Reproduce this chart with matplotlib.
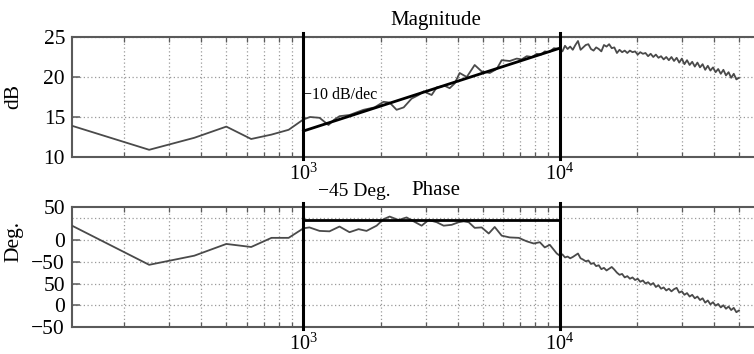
import numpy as np
import matplotlib
matplotlib.use("Agg")
import matplotlib.pyplot as plt
from matplotlib.ticker import LogLocator, NullFormatter

plt.rcParams["font.family"] = ["Liberation Serif", "DejaVu Serif"]
plt.rcParams["mathtext.fontset"] = "stix"

# ---- data ----
# low end, 125 Hz measurement steps
freq_low = [125, 250, 375, 500, 625, 750, 875, 1000]
mag_low = [13.9, 10.9, 12.4, 13.8, 12.25, 12.8, 13.4, 14.7]
phase_low = [33, -57, -36, -9, -16, 5, 5, 27]

# 1 kHz - 10 kHz
freq_mag_mid = [1060, 1155, 1252, 1310, 1382, 1512, 1715, 1893, 2054, 2168,
                2308, 2460, 2642, 2813, 2943, 3162, 3310, 3555, 3718, 3890,
                4067, 4335, 4655, 4955, 5330, 5674, 5933, 6379, 6792, 7100,
                7430, 7800, 8128, 8450, 8735, 9100, 9478]
mag_mid = [15.0, 14.9, 14.0, 14.6, 15.1, 15.25, 15.9, 16.2, 16.9, 16.8,
           15.9, 16.2, 17.3, 17.75, 18.2, 17.75, 18.7, 18.9, 18.6, 19.2,
           20.5, 20.0, 21.5, 20.7, 20.5, 21.0, 22.1, 22.0, 22.3, 22.2,
           22.6, 22.5, 22.9, 22.8, 23.2, 23.1, 23.6]

freq_phase_mid = [1055, 1155, 1263, 1382, 1512, 1640, 1762, 1929, 2054, 2168,
                  2350, 2525, 2690, 2890, 3077, 3308, 3523, 3786, 4032, 4217,
                  4411, 4656, 4955, 5281, 5572, 5934, 6377, 6916, 7430, 7914,
                  8356, 8736, 9141, 9734]
phase_mid = [29, 21, 20, 31, 18, 25, 21, 33, 48, 54,
             46, 52, 43, 33, 46, 41, 33, 35, 41, 43,
             41, 28, 29, 15, 30, 10, 6, 5, -3, -8,
             -5, -17, -11, -31]

# 10 kHz - 50 kHz, dense log grid
freq_high = np.geomspace(1e4, 5e4, 70)
mag_high = [23.5, 23.2, 23.9, 23.5, 23.8, 23.4, 24.0, 24.5, 23.4, 23.7,
            24.0, 24.1, 23.5, 23.3, 23.7, 23.5, 23.2, 24.0, 23.8, 24.1,
            23.6, 23.7, 23.0, 23.4, 23.1, 23.3, 23.0, 23.3, 23.1, 23.2,
            22.8, 23.1, 22.9, 23.0, 22.6, 22.9, 22.5, 22.8, 22.4, 22.6,
            22.2, 22.5, 22.1, 22.5, 22.0, 22.4, 21.8, 22.3, 21.6, 22.1,
            21.5, 21.9, 21.3, 21.8, 21.2, 21.6, 20.9, 21.4, 20.8, 21.2,
            20.6, 21.0, 20.4, 20.9, 20.2, 20.6, 19.9, 20.4, 19.7, 19.9]
phase_high = [-36, -33, -40, -38, -42, -39, -35, -31, -42, -45,
              -49, -47, -55, -53, -60, -58, -67, -64, -70, -66,
              -62, -68, -75, -80, -78, -86, -83, -89, -86, -92,
              -89, -96, -93, -100, -97, -103, -99, -108, -104, -112,
              -109, -116, -112, -118, -113, -110, -121, -118, -126, -122,
              -130, -126, -134, -130, -138, -134, -144, -139, -148, -143,
              -151, -147, -155, -150, -158, -153, -161, -156, -166, -162]

# asymptote / reference lines
slope_freq = [1e3, 1e4]
slope_db = [13.25, 23.6]
phase_ref_freq = [1e3, 1e4]
phase_ref = [45, 45]
corner_freqs = [1e3, 1e4]

freq_mag = np.concatenate([freq_low, freq_mag_mid, freq_high])
mag = np.concatenate([mag_low, mag_mid, mag_high])
freq_ph = np.concatenate([freq_low, freq_phase_mid, freq_high])
phase = np.concatenate([phase_low, phase_mid, phase_high])

phase_ticks = [-200, -150, -100, -50, 0, 76]
phase_ticklabels = ["\u221250", "0", "50", "\u221250", "0", "50"]
phase_grid = [-150, -100, -50, 0, 50]

# ---- figure ----
fig = plt.figure(figsize=(7.54, 3.54), dpi=100)
ax1 = fig.add_axes([0.0955, 0.5565, 0.9854, 0.339])
ax2 = fig.add_axes([0.0955, 0.0763, 0.9854, 0.339])

data_col = "#4a4a4a"
spine_col = "#5a5a5a"
grid_kw = dict(color="#9a9a9a", linestyle=(0, (1, 2)), linewidth=0.9)

for ax in (ax1, ax2):
    ax.set_xscale("log")
    ax.set_xlim(125, 9.9e4)
    ax.xaxis.set_major_locator(LogLocator(base=10, numticks=10))
    ax.xaxis.set_minor_locator(LogLocator(base=10, subs=np.arange(2, 10), numticks=50))
    ax.xaxis.set_minor_formatter(NullFormatter())
    ax.tick_params(which="both", direction="in", top=True, right=False,
                   colors=spine_col, labelcolor="black")
    ax.tick_params(which="major", length=6, width=1.1)
    ax.tick_params(which="minor", length=3.5, width=0.9)
    ax.tick_params(axis="x", labelsize=14.5, pad=5)
    ax.tick_params(axis="y", labelsize=15.5, pad=5)
    for s in ax.spines.values():
        s.set_color(spine_col)
        s.set_linewidth(1.5)
    ax.grid(True, which="both", axis="x", **grid_kw)
    for f in corner_freqs:
        ax.axvline(f, ymin=-0.02, ymax=1.035, color="black", lw=2.2,
                   clip_on=False, zorder=5)

# magnitude
ax1.plot(freq_mag, mag, color=data_col, lw=1.3, zorder=3)
ax1.plot(slope_freq, slope_db, color="black", lw=2.0, zorder=4)
ax1.set_ylim(10, 25)
ax1.set_yticks([10, 15, 20, 25])
ax1.grid(True, which="major", axis="y", **grid_kw)
ax1.set_ylabel("dB", fontsize=15.5)
ax1.yaxis.set_label_coords(-0.066, 0.5)
ax1.text(0.49, 1.06, "Magnitude", transform=ax1.transAxes, ha="center",
         va="bottom", fontsize=15)
ax1.text(1000, 17.75, "\u221210 dB/dec", ha="left", va="center", fontsize=11.5)

# phase
ax2.plot(freq_ph, phase, color=data_col, lw=1.3, zorder=3)
ax2.plot(phase_ref_freq, phase_ref, color="black", lw=2.0, zorder=4)
ax2.set_ylim(-200, 76)
ax2.set_yticks(phase_ticks)
ax2.set_yticklabels(phase_ticklabels)
for g in phase_grid:
    ax2.axhline(g, zorder=0, **grid_kw)
ax2.set_ylabel("Deg.", fontsize=15.5)
ax2.yaxis.set_label_coords(-0.066, 0.71)
ax2.text(0.49, 1.06, "Phase", transform=ax2.transAxes, ha="center",
         va="bottom", fontsize=15)
ax2.text(0.331, 1.06, "\u221245 Deg.", transform=ax2.transAxes, ha="left",
         va="bottom", fontsize=14)

fig.savefig("out.png", dpi=100)
plt.close(fig)
